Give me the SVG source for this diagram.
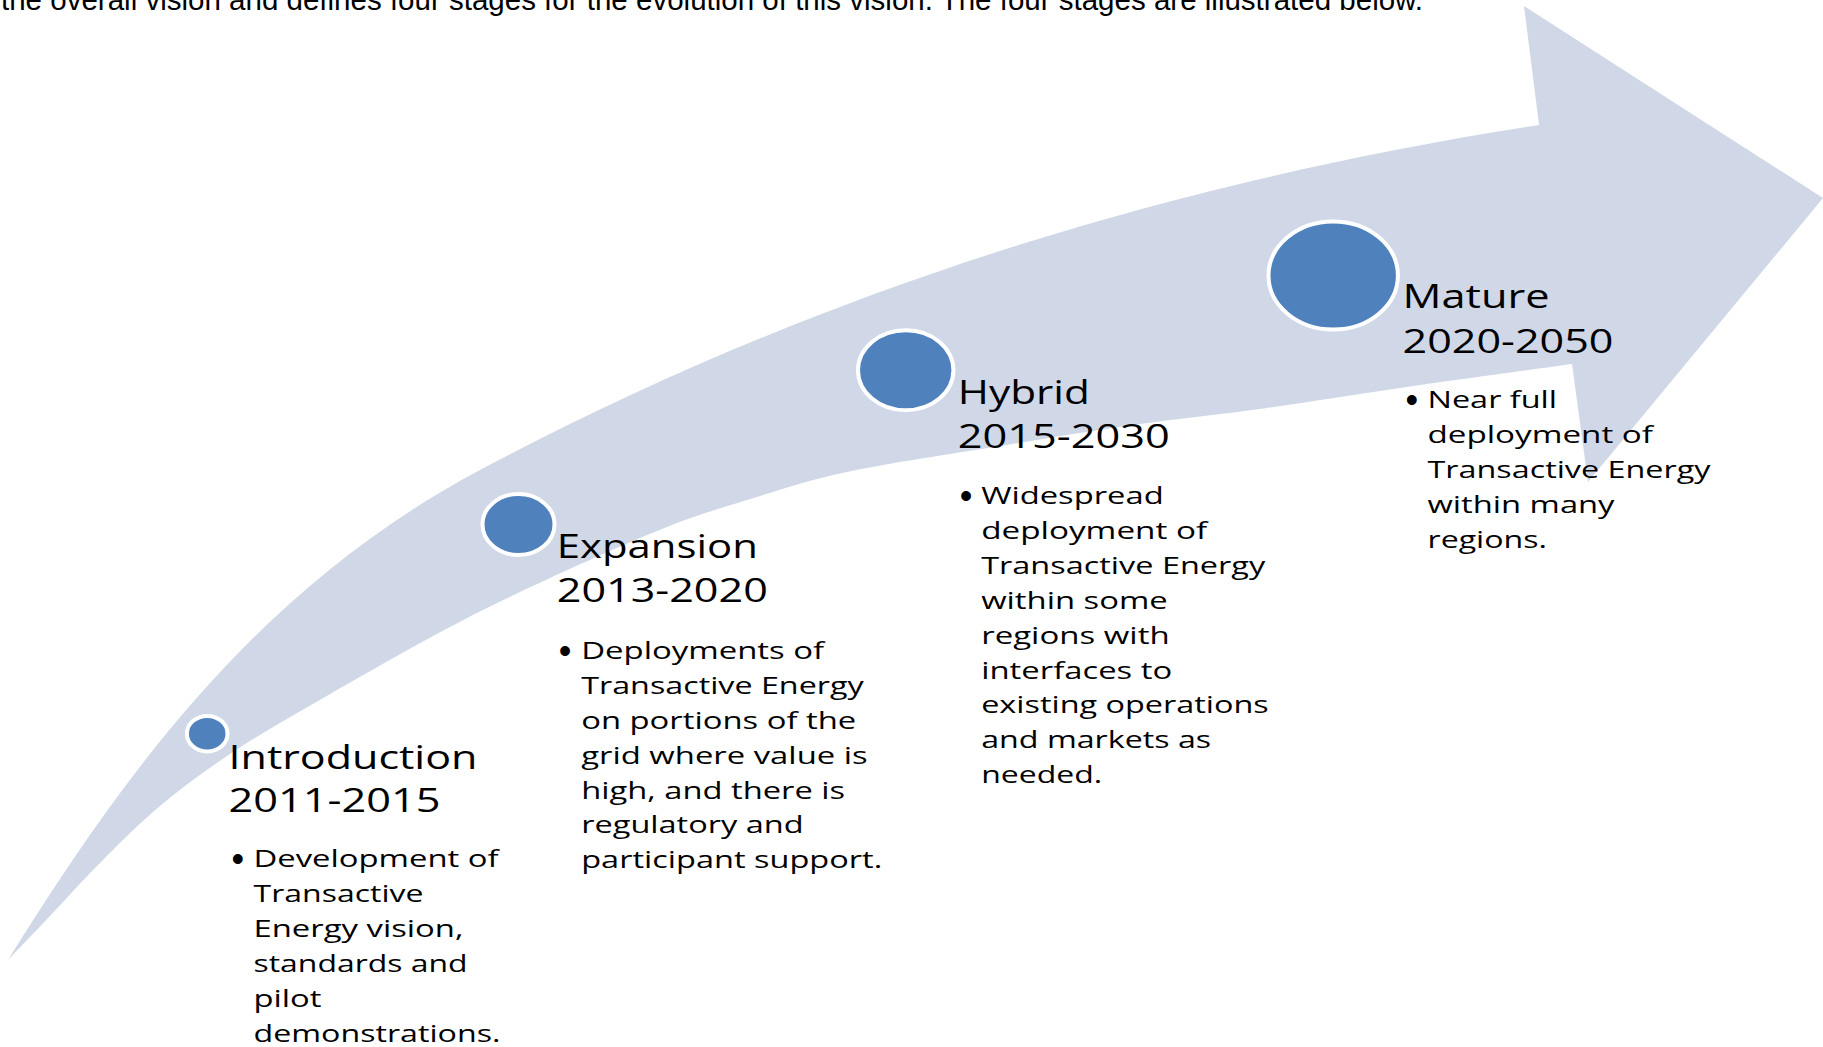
<svg xmlns="http://www.w3.org/2000/svg" width="1823" height="1047" viewBox="0 0 1823 1047">
<style>
.band{fill:#D0D8E8;stroke:none}
.dot{fill:#4F81BD;stroke:#FFFFFF;stroke-width:4}
.h{font-family:"Open Sans","DejaVu Sans",sans-serif;font-size:32px;fill:#000}
.b{font-family:"Open Sans","DejaVu Sans",sans-serif;font-size:24px;fill:#000}
.bul{font-family:"Liberation Sans",Arial,sans-serif;font-size:36px;fill:#000}
.top{font-family:"Liberation Sans",Arial,sans-serif;font-size:29px;fill:#000}
</style>
<rect x="0" y="0" width="1823" height="1047" fill="#FFFFFF"/>
<g id="caption">
<text class="top" x="1" y="10" textLength="1422" lengthAdjust="spacingAndGlyphs">the overall vision and defines four stages for the evolution of this vision.  The four stages are illustrated below.</text>
</g>
<g id="connectors">
<path id="arrow" class="band" d="M 8,960 C 114,790 250,592 480,470 C 800,300 1150,185 1539,125 L 1524,6 L 1823,198 L 1588,482 L 1572,364 C 1543.3,368 1450.8,380.7 1400,388 C 1349.2,395.3 1311.5,401.8 1267,408 C 1222.5,414.2 1177.5,418.7 1133,425 C 1088.5,431.3 1047.7,438.2 1000,446 C 952.3,453.8 889.2,463 847,472 C 804.8,481 777,490.8 747,500 C 717,509.2 699.8,514 667,527 C 634.2,540 586.2,561.3 550,578 C 513.8,594.7 487.5,607.2 450,627 C 412.5,646.8 361.2,676.2 325,697 C 288.8,717.8 260.5,733.8 233,752 C 205.5,770.2 182.2,787.5 160,806 C 137.8,824.5 118.3,844.7 100,863 C 81.7,881.3 65.3,899.8 50,916 C 34.7,932.2 15,952.7 8,960 Z"/>
</g>
<g id="stage-introduction">
<ellipse class="dot" cx="207.2" cy="733.7" rx="20.3" ry="17.8"/>
<text class="h" x="228.5" y="768.5" textLength="249" lengthAdjust="spacingAndGlyphs">Introduction</text>
<text class="h" x="228.5" y="811.7" textLength="212" lengthAdjust="spacingAndGlyphs">2011-2015</text>
<text class="bul" x="237.7" y="870.5" text-anchor="middle">•</text>
<text class="b" x="253.5" y="866.7" textLength="245" lengthAdjust="spacingAndGlyphs">Development of</text>
<text class="b" x="253.5" y="901.8" textLength="170" lengthAdjust="spacingAndGlyphs">Transactive</text>
<text class="b" x="253.5" y="936.9" textLength="210" lengthAdjust="spacingAndGlyphs">Energy vision,</text>
<text class="b" x="253.5" y="972.0" textLength="214" lengthAdjust="spacingAndGlyphs">standards and</text>
<text class="b" x="253.5" y="1007.1" textLength="68" lengthAdjust="spacingAndGlyphs">pilot</text>
<text class="b" x="253.5" y="1042.2" textLength="247" lengthAdjust="spacingAndGlyphs">demonstrations.</text>
</g>
<g id="stage-expansion">
<ellipse class="dot" cx="518.5" cy="524.5" rx="36" ry="30.5"/>
<text class="h" x="556.8" y="558.3" textLength="201" lengthAdjust="spacingAndGlyphs">Expansion</text>
<text class="h" x="556.8" y="601.7" textLength="211" lengthAdjust="spacingAndGlyphs">2013-2020</text>
<text class="bul" x="565" y="662.8" text-anchor="middle">•</text>
<text class="b" x="581.2" y="659" textLength="243" lengthAdjust="spacingAndGlyphs">Deployments of</text>
<text class="b" x="581.2" y="694" textLength="282.5" lengthAdjust="spacingAndGlyphs">Transactive Energy</text>
<text class="b" x="581.2" y="729" textLength="275" lengthAdjust="spacingAndGlyphs">on portions of the</text>
<text class="b" x="581.2" y="763.8" textLength="286.5" lengthAdjust="spacingAndGlyphs">grid where value is</text>
<text class="b" x="581.2" y="798.6" textLength="264" lengthAdjust="spacingAndGlyphs">high, and there is</text>
<text class="b" x="581.2" y="833.4" textLength="222.5" lengthAdjust="spacingAndGlyphs">regulatory and</text>
<text class="b" x="581.2" y="868.3" textLength="301" lengthAdjust="spacingAndGlyphs">participant support.</text>
</g>
<g id="stage-hybrid">
<ellipse class="dot" cx="905.7" cy="370.2" rx="47.7" ry="40"/>
<text class="h" x="957.8" y="404" textLength="132" lengthAdjust="spacingAndGlyphs">Hybrid</text>
<text class="h" x="957.8" y="448.3" textLength="212" lengthAdjust="spacingAndGlyphs">2015-2030</text>
<text class="bul" x="966" y="507.8" text-anchor="middle">•</text>
<text class="b" x="981.2" y="504" textLength="182.5" lengthAdjust="spacingAndGlyphs">Widespread</text>
<text class="b" x="981.2" y="538.9" textLength="226" lengthAdjust="spacingAndGlyphs">deployment of</text>
<text class="b" x="981.2" y="573.8" textLength="284" lengthAdjust="spacingAndGlyphs">Transactive Energy</text>
<text class="b" x="981.2" y="608.7" textLength="186.5" lengthAdjust="spacingAndGlyphs">within some</text>
<text class="b" x="981.2" y="643.6" textLength="188.5" lengthAdjust="spacingAndGlyphs">regions with</text>
<text class="b" x="981.2" y="678.5" textLength="191" lengthAdjust="spacingAndGlyphs">interfaces to</text>
<text class="b" x="981.2" y="713.4" textLength="287.5" lengthAdjust="spacingAndGlyphs">existing operations</text>
<text class="b" x="981.2" y="748.3" textLength="230" lengthAdjust="spacingAndGlyphs">and markets as</text>
<text class="b" x="981.2" y="783.2" textLength="121" lengthAdjust="spacingAndGlyphs">needed.</text>
</g>
<g id="stage-mature">
<ellipse class="dot" cx="1333.2" cy="275.5" rx="64.7" ry="54"/>
<text class="h" x="1402.5" y="308.3" textLength="147" lengthAdjust="spacingAndGlyphs">Mature</text>
<text class="h" x="1402.5" y="353.3" textLength="211" lengthAdjust="spacingAndGlyphs">2020-2050</text>
<text class="bul" x="1411.7" y="412.1" text-anchor="middle">•</text>
<text class="b" x="1427.5" y="408.3" textLength="129.5" lengthAdjust="spacingAndGlyphs">Near full</text>
<text class="b" x="1427.5" y="443.1" textLength="225.5" lengthAdjust="spacingAndGlyphs">deployment of</text>
<text class="b" x="1427.5" y="477.9" textLength="283" lengthAdjust="spacingAndGlyphs">Transactive Energy</text>
<text class="b" x="1427.5" y="512.7" textLength="187" lengthAdjust="spacingAndGlyphs">within many</text>
<text class="b" x="1427.5" y="547.5" textLength="119.5" lengthAdjust="spacingAndGlyphs">regions.</text>
</g>
</svg>
